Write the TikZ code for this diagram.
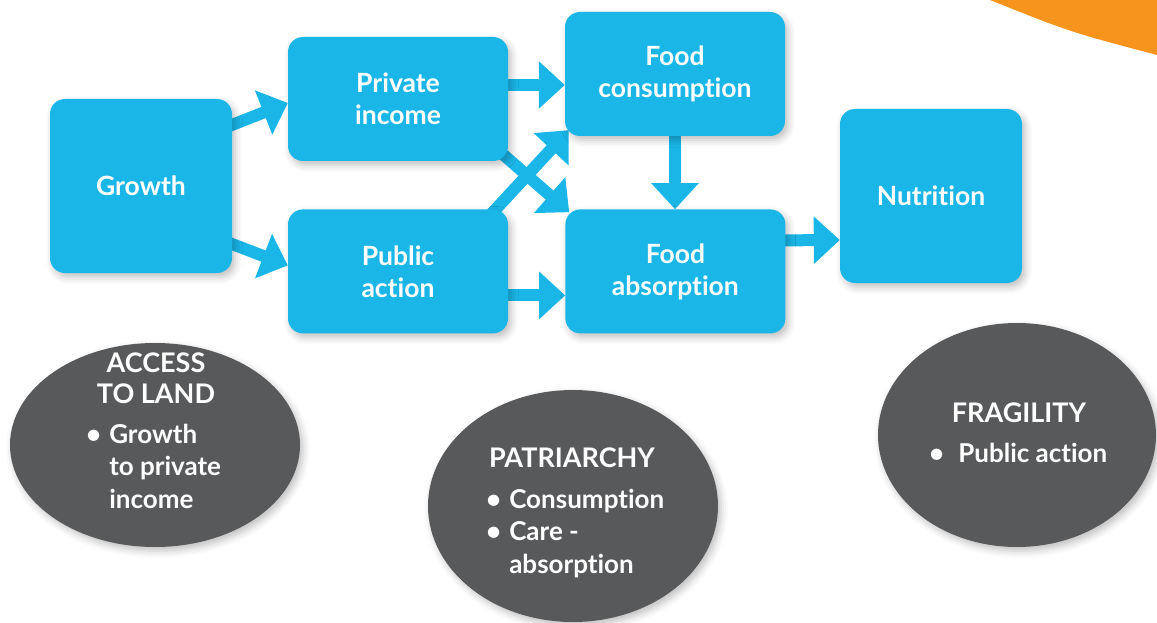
\documentclass[tikz,border=0pt]{standalone}
\usepackage{fontspec}
\setmainfont{Lato}[Ligatures=NoCommon]
\usepackage{tikz}
\usetikzlibrary{positioning,shapes.geometric,shadows.blur,arrows.meta,calc}
\pgfdeclarelayer{background}
\pgfsetlayers{background,main}

\definecolor{boxblue}{HTML}{1AB6E8}
\definecolor{ovalgrey}{HTML}{58595B}
\definecolor{cornerorange}{HTML}{F7941E}

\tikzset{
  stage/.style={rectangle, rounded corners=15pt, fill=boxblue, text=white,
    font=\fontsize{26.5}{32}\selectfont\bfseries, align=center, inner sep=0pt,
    minimum width=220pt, minimum height=124pt,
    blur shadow={shadow xshift=3pt, shadow yshift=-4pt, shadow blur radius=7pt, shadow opacity=25}},
  bigstage/.style={stage, minimum width=182pt, minimum height=174pt},
  oval/.style={ellipse, fill=ovalgrey, inner sep=0pt,
    blur shadow={shadow xshift=3pt, shadow yshift=-4pt, shadow blur radius=7pt, shadow opacity=25}},
  ovaltitle/.style={text=white, font=\fontsize{27}{31}\selectfont\bfseries, align=center, inner sep=0pt},
  ovallist/.style={text=white, font=\fontsize{26}{32.5}\selectfont\bfseries, inner sep=0pt, anchor=north west},
  flow/.style={draw=boxblue, line width=12pt, -{Triangle[width=46pt,length=26pt]}}
}

\begin{document}
\begin{tikzpicture}[x=1pt,y=-1pt]
  \useasboundingbox (0,0) rectangle (1157,623);

  % the chain of boxes
  \node[bigstage] (growth) at (141,186) {Growth};
  \node[stage] (private) at (398,99) {Private\\income};
  \node[stage, below=48pt of private] (public) {Public\\action};
  \node[stage] (foodc) at (675,74) {Food\\consumption};
  \node[stage, right=57pt of public] (fooda) {Food\\absorption};
  \node[bigstage] (nutrition) at (931,196) {Nutrition};

  % the grey ovals
  \node[oval, minimum width=290pt, minimum height=204pt] (land) at (155,445) {};
  \node[ovaltitle, anchor=north] (land-title) at (156,353) {ACCESS\\TO LAND};
  \node[ovallist] (land-list) at (86,420.25) {\begin{tabular}{@{}l@{\hspace{8pt}}l@{}}\textbullet & Growth\\ & to private\\ & income\end{tabular}};

  \node[oval, minimum width=290pt, minimum height=232pt] (patriarchy) at (573,506) {};
  \node[ovaltitle, anchor=base] (patriarchy-title) at (572,467) {PATRIARCHY};
  \node[ovallist] (patriarchy-list) at (486,485.25) {\begin{tabular}{@{}l@{\hspace{8pt}}l@{}}\textbullet & Consumption\\ \textbullet & Care -\\ & absorption\end{tabular}};

  \node[oval, minimum width=278pt, minimum height=224pt] (fragility) at (1017,435) {};
  \node[ovaltitle, anchor=base] (fragility-title) at (1019,422) {FRAGILITY};
  \node[ovallist] (fragility-list) at (929,439.25) {\begin{tabular}{@{}l@{\hspace{14pt}}l@{}}\textbullet & Public action\end{tabular}};

  \begin{pgfonlayer}{background}
    \fill[cornerorange] (990,0) .. controls (1070,32) .. (1157,55) -- (1157,0) -- cycle;
    \draw[flow] ($(growth.east)+(-8,-58)$) -- ($(private.west)+(0,4)$);
    \draw[flow] ($(growth.east)+(-8,55)$) -- ($(public.west)+(0,-6)$);
    \draw[flow] ($(private.east)+(-5,-14)$) -- ($(foodc.west)+(0,11)$);
    \draw[flow] ($(private.south east)+(-18,-18)$) -- ($(fooda.north west)+(4,3)$);
    \draw[flow] ($(public.north east)+(-18,6)$) -- ($(foodc.south west)+(4,-6)$);
    \draw[flow] ($(public.east)+(-5,24)$) -- ($(fooda.west)+(0,24)$);
    \draw[flow] ($(foodc.south)+(0,-5)$) -- (foodc.south |- fooda.north);
    \draw[flow] ($(fooda.east)+(-5,-31)$) -- ($(nutrition.west)+(0,44)$);
  \end{pgfonlayer}
\end{tikzpicture}
\end{document}
